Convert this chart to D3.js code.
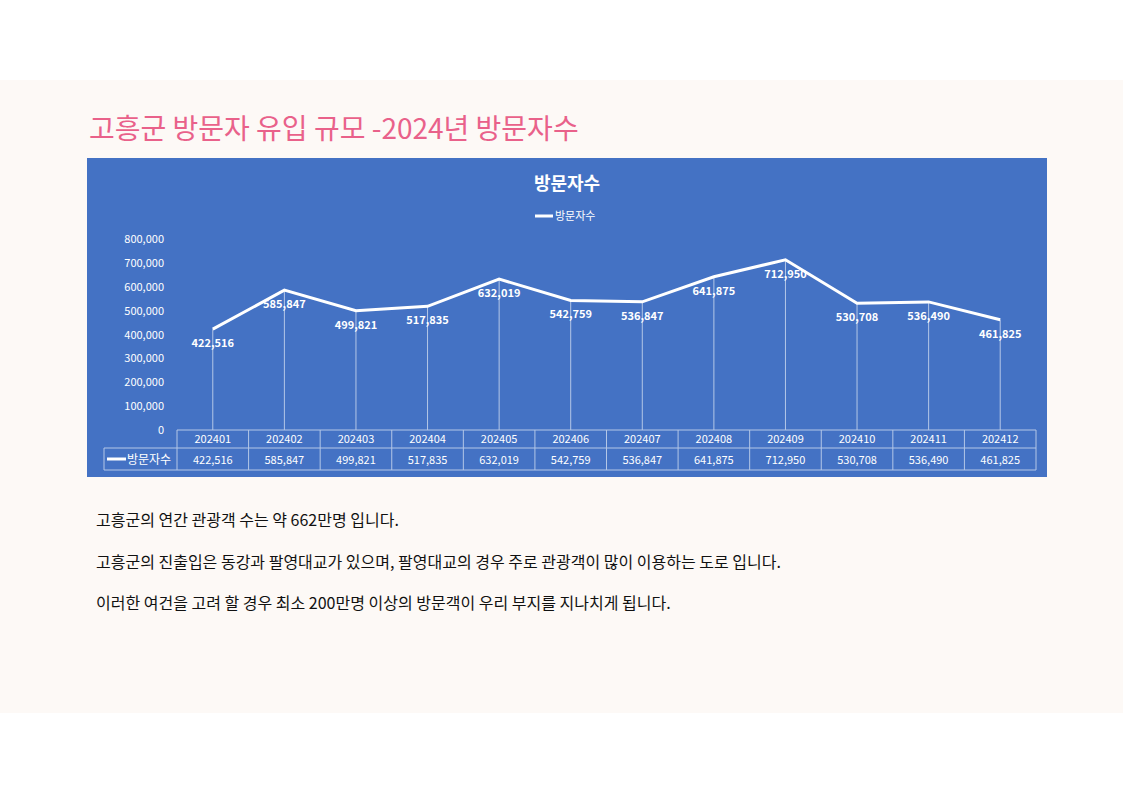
<!DOCTYPE html>
<html><head><meta charset="utf-8">
<script src="https://cdn.jsdelivr.net/npm/d3@7"></script>
<style>body{margin:0;background:#fff}svg{display:block;font-family:"Noto Sans CJK KR","Noto Sans",sans-serif}</style>
</head><body><svg id="c" width="1123" height="793"></svg>
<script>
const categories=["202401","202402","202403","202404","202405","202406","202407","202408","202409","202410","202411","202412"];
const visitors=[422516,585847,499821,517835,632019,542759,536847,641875,712950,530708,536490,461825];
const yTicks=[0,100000,200000,300000,400000,500000,600000,700000,800000];
const seriesName="방문자수";
const pageTitle="고흥군 방문자 유입 규모 -2024년 방문자수";
const notes=["고흥군의 연간 관광객 수는 약 662만명 입니다.","고흥군의 진출입은 동강과 팔영대교가 있으며, 팔영대교의 경우 주로 관광객이 많이 이용하는 도로 입니다.","이러한 여건을 고려 할 경우 최소 200만명 이상의 방문객이 우리 부지를 지나치게 됩니다."];

const svg=d3.select("#c");
svg.append("rect").attr("x",0).attr("y",80).attr("width",1123).attr("height",633).attr("fill","#fdf9f6");
svg.append("text").attr("x",89).attr("y",139).attr("font-size",28).attr("fill","#e9618a").text(pageTitle);
svg.append("rect").attr("x",87).attr("y",158).attr("width",960).attr("height",319).attr("fill","#4472c4");
svg.append("text").attr("x",567).attr("y",190).attr("text-anchor","middle").attr("font-size",18).attr("font-weight","bold").attr("fill","#fff").text(seriesName);
svg.append("line").attr("x1",535).attr("x2",553).attr("y1",216).attr("y2",216).attr("stroke","#fff").attr("stroke-width",3);
svg.append("text").attr("x",555).attr("y",220).attr("font-size",11).attr("fill","#fff").text(seriesName);

const x=d3.scaleBand().domain(categories).range([177,1036]);
const y=d3.scaleLinear().domain([0,800000]).range([430,239]);
const fmt=d3.format(",");
svg.append("g").selectAll("text").data(yTicks).join("text").attr("x",164).attr("y",d=>y(d)+4).attr("text-anchor","end").attr("font-size",11).attr("fill","#fff").text(d=>fmt(d));
const cx=d=>x(d)+x.bandwidth()/2;
svg.append("g").selectAll("line").data(categories).join("line").attr("x1",cx).attr("x2",cx).attr("y1",(d,i)=>y(visitors[i])).attr("y2",y(0)).attr("stroke","#b4c7e7").attr("stroke-width",1);
svg.append("path").datum(visitors).attr("fill","none").attr("stroke","#fff").attr("stroke-width",3)
 .attr("d",d3.line().x((d,i)=>cx(categories[i])).y(d=>y(d)));
svg.append("g").selectAll("text").data(visitors).join("text").attr("x",(d,i)=>cx(categories[i])).attr("y",(d,i)=>y(d)+18).attr("text-anchor","middle").attr("font-size",11).attr("font-weight","bold").attr("fill","#fff").text(d=>fmt(d));
// table
const tg=svg.append("g").attr("stroke","#b4c7e7").attr("fill","none");
tg.append("line").attr("x1",177).attr("x2",1036).attr("y1",430).attr("y2",430);
tg.append("line").attr("x1",104).attr("x2",1036).attr("y1",448).attr("y2",448);
tg.append("line").attr("x1",104).attr("x2",1036).attr("y1",470).attr("y2",470);
tg.append("line").attr("x1",104).attr("x2",104).attr("y1",448).attr("y2",470);
tg.selectAll("line.v").data(categories.concat(["end"])).join("line").attr("class","v")
 .attr("x1",d=>d==="end"?1036:x(d)).attr("x2",d=>d==="end"?1036:x(d)).attr("y1",430).attr("y2",470);
svg.append("g").selectAll("text").data(categories).join("text").attr("x",cx).attr("y",443).attr("text-anchor","middle").attr("font-size",11).attr("fill","#fff").text(d=>d);
svg.append("g").selectAll("text").data(visitors).join("text").attr("x",(d,i)=>cx(categories[i])).attr("y",464).attr("text-anchor","middle").attr("font-size",11).attr("fill","#fff").text(d=>fmt(d));
svg.append("line").attr("x1",107).attr("x2",126).attr("y1",459).attr("y2",459).attr("stroke","#fff").attr("stroke-width",3);
svg.append("text").attr("x",127).attr("y",464).attr("font-size",12).attr("fill","#fff").text(seriesName);
svg.append("g").selectAll("text").data(notes).join("text").attr("x",96).attr("y",(d,i)=>526+i*41.5).attr("font-size",16).attr("fill","#111").text(d=>d);
</script></body></html>
